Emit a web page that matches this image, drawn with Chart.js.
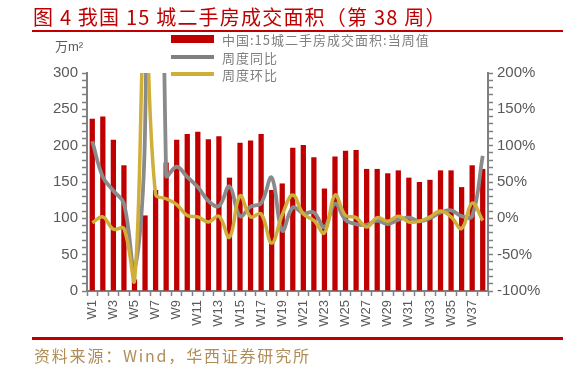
<!DOCTYPE html>
<html>
<head>
<meta charset="utf-8">
<script src="https://cdn.jsdelivr.net/npm/chart.js@4.4.1/dist/chart.umd.min.js"></script>
<style>
  html, body { margin: 0; padding: 0; background: #fff; }
  #wrap { position: relative; width: 563px; height: 365px; overflow: hidden; font-family: "Noto Sans CJK SC", "Liberation Sans", sans-serif; }
  #chart { position: absolute; left: 0; top: 0; }
  .title { position: absolute; left: 33px; top: 2px; font-size: 20px; color: #C00000; white-space: nowrap; letter-spacing: 1.2px; }
  .rule { position: absolute; left: 32px; right: 0; background: #C00000; }
  .unit { position: absolute; left: 55px; top: 36px; font-size: 13px; color: #595959; font-family: "Liberation Sans", "Noto Sans CJK SC", sans-serif; }
  .lg { position: absolute; left: 171px; font-size: 13px; color: #7f7f7f; white-space: nowrap; letter-spacing: 1px; }
  .lg i { position: absolute; left: 0; width: 43px; }
  .lg span { position: absolute; left: 51px; top: -9px; }
  .src { position: absolute; left: 34px; top: 343px; font-size: 16px; color: #B08D57; white-space: nowrap; letter-spacing: 1.8px; }
</style>
</head>
<body>
<div id="wrap">
  <canvas id="chart" width="563" height="365"></canvas>
  <div class="title">图 4 我国 15 城二手房成交面积（第 38 周）</div>
  <div class="rule" style="top:30px;height:2px"></div>
  <div class="unit">万m²</div>
  <div class="lg" style="top:39px"><i style="top:-4px;height:8px;background:#C00000"></i><span>中国:15城二手房成交面积:当周值</span></div>
  <div class="lg" style="top:57px"><i style="top:-2px;height:3.5px;background:#808080"></i><span>周度同比</span></div>
  <div class="lg" style="top:74px"><i style="top:-2px;height:3.5px;background:#CFAE3A"></i><span>周度环比</span></div>
  <div class="rule" style="top:337px;height:3px"></div>
  <div class="src">资料来源：Wind，华西证券研究所</div>
</div>
<script>
const weeks = Array.from({ length: 38 }, (_, i) => 'W' + (i + 1));

// 万平方米
const areaValues = [237, 240, 208, 173, 16, 104, 139, 177, 208, 216, 219, 209, 213, 156, 204, 207, 216, 139, 148, 197,
  201, 184, 141, 185, 193, 194, 168, 168, 162, 166, 156, 150, 153, 166, 166, 143, 173, 168];

// %
const yoyValues = [106, 57, 38, 20, -70, 120, 1500, 59, 71, 57, 43, 24, 17, 44, 3, 16, 21, 56, -17, 15,
  7, 8, -12, 20, -2, -8, -9, -3, -8, -2, 1, -4, 0, 8, 11, 3, 3, 86];

const qoqValues = [-6, 2, -15, -14, -86, 280, 33, 27, 19, 4, 2, -5, 3, -26, 31, 2, 6, -34, 5, 32,
  6, -3, -20, 32, 4, 1, -12, 1, -4, 3, -5, -4, 2, 10, 2, -14, 21, -3];

const leftTicks = [0, 50, 100, 150, 200, 250, 300];
const rightTicks = [-100, -50, 0, 50, 100, 150, 200];

const AXIS = '#808080';
const TXT = '#595959';

new Chart(document.getElementById('chart'), {
  type: 'bar',
  data: {
    labels: weeks,
    datasets: [
      {
        label: '中国:15城二手房成交面积:当周值',
        data: areaValues,
        backgroundColor: '#C00000',
        barPercentage: 0.5,
        categoryPercentage: 1,
        yAxisID: 'y',
        order: 3,
      },
      {
        type: 'line',
        label: '周度同比',
        data: yoyValues,
        borderColor: '#8a8a8a',
        borderWidth: 3.8,
        pointRadius: 0,
        tension: 0.4,
        yAxisID: 'y1',
        order: 2,
      },
      {
        type: 'line',
        label: '周度环比',
        data: qoqValues,
        borderColor: '#CFAE3A',
        borderWidth: 3.5,
        pointRadius: 0,
        tension: 0.4,
        yAxisID: 'y1',
        order: 1,
      },
    ],
  },
  options: {
    responsive: false,
    animation: false,
    layout: { padding: { left: 30, top: 73, right: 0, bottom: 0 } },
    plugins: { legend: { display: false }, tooltip: { enabled: false } },
    scales: {
      x: {
        offset: true,
        grid: { display: true, drawOnChartArea: false, offset: true, color: AXIS, tickColor: AXIS, tickLength: 5, tickWidth: 1.5 },
        border: { color: AXIS, width: 2 },
        ticks: {
          autoSkip: false, maxRotation: 90, minRotation: 90, padding: 4,
          color: TXT, font: { family: 'Liberation Sans', size: 13 },
          callback: (v, i) => (i % 2 === 0 ? weeks[i] : ''),
        },
        afterFit: (s) => { s.height = 74; },
      },
      y: {
        position: 'left', min: 0, max: 300,
        grid: { drawOnChartArea: false, color: AXIS, tickColor: AXIS, tickLength: 5, tickWidth: 1.5 },
        border: { color: AXIS, width: 2 },
        ticks: {
          stepSize: 10, autoSkip: false, padding: 4,
          color: TXT, font: { family: 'Liberation Sans', size: 15 },
          callback: (v) => (leftTicks.includes(v) ? String(v) : ''),
        },
        afterFit: (s) => { s.width = 57; },
      },
      y1: {
        position: 'right', min: -100, max: 200,
        grid: { drawOnChartArea: false, color: AXIS, tickColor: AXIS, tickLength: 5, tickWidth: 1.5 },
        border: { color: AXIS, width: 2 },
        ticks: {
          stepSize: 10, autoSkip: false, padding: 4,
          color: TXT, font: { family: 'Liberation Sans', size: 15 },
          callback: (v) => (rightTicks.includes(v) ? v + '%' : ''),
        },
        afterFit: (s) => { s.width = 75; },
      },
    },
  },
});
</script>
</body>
</html>
